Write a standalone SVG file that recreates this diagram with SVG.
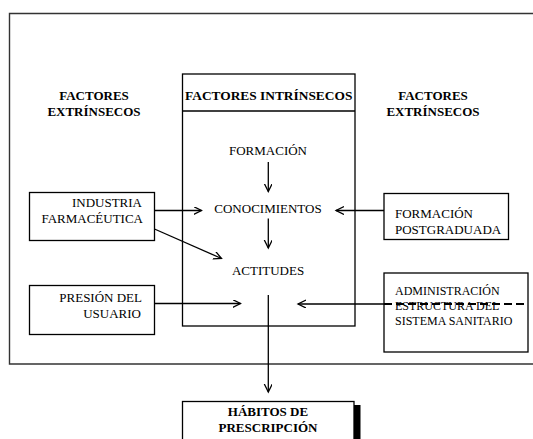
<svg xmlns="http://www.w3.org/2000/svg" width="533" height="439" viewBox="0 0 533 439">
<defs>
<marker id="ah" markerWidth="10" markerHeight="10" refX="8" refY="4" orient="auto" markerUnits="userSpaceOnUse">
<path d="M0,0 L8,4 L0,8" fill="none" stroke="#000" stroke-width="1.3"/>
</marker>
</defs>
<style>
text{font-family:"Liberation Serif","Times New Roman",serif;fill:#000}
.n{font-size:13px}
.s{font-size:12px}
.b{font-size:13px;font-weight:bold}
.c{text-anchor:middle}
.r{text-anchor:end}
.box{fill:#fff;stroke:#000;stroke-width:1.3}
.ln{stroke:#000;stroke-width:1.3;fill:none}
</style>
<rect width="533" height="439" fill="#fff"/>
<g id="frame">
<path d="M540,13.5 H9.5 V364 H540" fill="none" stroke="#333" stroke-width="1.4"/>
</g>
<g id="labels">
<text class="b c" x="94" y="100">FACTORES</text>
<text class="b c" x="94" y="116">EXTRÍNSECOS</text>
<text class="b c" x="433" y="100">FACTORES</text>
<text class="b c" x="433" y="116">EXTRÍNSECOS</text>
</g>
<g id="intrinsecos">
<rect class="box" x="182.5" y="74" width="172.5" height="252"/>
<line class="ln" x1="182.5" y1="111" x2="355" y2="111"/>
<text class="b c" x="268.7" y="100" style="font-size:13.4px">FACTORES INTRÍNSECOS</text>
<text class="n c" x="268" y="155">FORMACIÓN</text>
<text class="n c" x="268" y="213">CONOCIMIENTOS</text>
<text class="n c" x="268" y="275">ACTITUDES</text>
</g>
<g id="industria">
<rect class="box" x="29.5" y="192.5" width="125" height="48"/>
<text class="n r" x="142" y="206.5">INDUSTRIA</text>
<text class="n r" x="143" y="222.5">FARMACÉUTICA</text>
</g>
<g id="presion">
<rect class="box" x="29.5" y="285.5" width="125" height="49"/>
<text class="n r" x="142" y="301.5">PRESIÓN DEL</text>
<text class="n r" x="141" y="317.5">USUARIO</text>
</g>
<g id="postgrado">
<rect class="box" x="384" y="193.5" width="124.5" height="46"/>
<text class="n" x="395" y="218">FORMACIÓN</text>
<text class="n" x="395" y="234">POSTGRADUADA</text>
</g>
<g id="administracion">
<rect class="box" x="384" y="273" width="144" height="79"/>
<text class="s" x="395" y="295">ADMINISTRACIÓN</text>
<text class="s" x="395" y="310">ESTRUCTURA DEL</text>
<text class="s" x="395" y="325">SISTEMA SANITARIO</text>
<line x1="384" y1="304" x2="528" y2="304" stroke="#000" stroke-width="2" stroke-dasharray="8,4"/>
</g>
<g id="habitos">
<rect x="354" y="405" width="6.5" height="40" fill="#000"/>
<rect class="box" x="182.5" y="401.5" width="171.5" height="45"/>
<text class="b c" x="268" y="416">HÁBITOS DE</text>
<text class="b c" x="268" y="431.5">PRESCRIPCIÓN</text>
</g>
<g id="connectors">
<line class="ln" x1="268.3" y1="162" x2="268.3" y2="191.5" marker-end="url(#ah)"/>
<line class="ln" x1="268.3" y1="218.5" x2="268.3" y2="248" marker-end="url(#ah)"/>
<line class="ln" x1="154.5" y1="210.5" x2="201.5" y2="210.5" marker-end="url(#ah)"/>
<line class="ln" x1="154.5" y1="229" x2="221.5" y2="258.5" marker-end="url(#ah)"/>
<line class="ln" x1="154.5" y1="303.5" x2="240.5" y2="303.5" marker-end="url(#ah)"/>
<line class="ln" x1="384" y1="210.5" x2="336" y2="210.5" marker-end="url(#ah)"/>
<line class="ln" x1="384" y1="304" x2="298" y2="304" marker-end="url(#ah)"/>
<line class="ln" x1="268.3" y1="295" x2="268.3" y2="392" marker-end="url(#ah)"/>
</g>
</svg>
